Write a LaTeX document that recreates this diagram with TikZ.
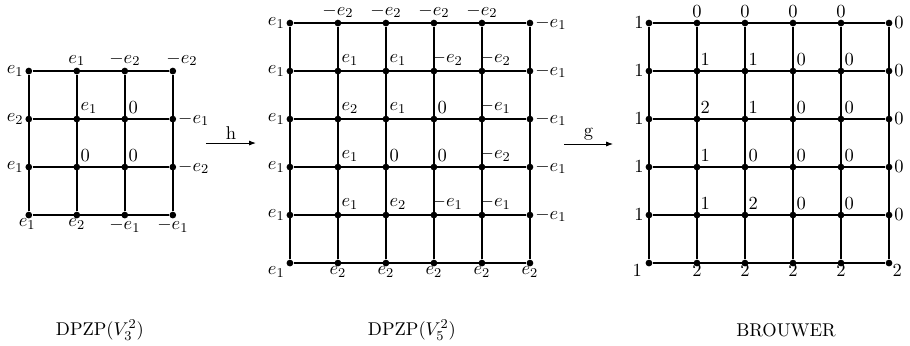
\documentclass[tikz,border=0pt,11pt]{standalone}
\usepackage{amsmath}
\usepackage{tikz}
\usetikzlibrary{arrows.meta}

\begin{document}
\begin{tikzpicture}[>={Latex[length=4pt,width=3pt]}, every node/.style={font=\normalsize}]
    \tikzstyle{dot}=[circle, fill, inner sep=0pt, minimum size=4pt]
    \tikzstyle{grid}=[line width=0.95pt]
    \tikzstyle{toplab}=[anchor=south, inner sep=0pt, yshift=2.8pt]
    \tikzstyle{botlab}=[anchor=north, inner sep=0pt, yshift=-2pt]
    \tikzstyle{leftlab}=[anchor=east, inner sep=0pt, xshift=-3pt]
    \tikzstyle{rightlab}=[anchor=west, inner sep=0pt, xshift=3pt]
    \tikzstyle{inlab}=[anchor=south west, inner sep=0pt, xshift=2pt, yshift=3pt]
    \tikzstyle{inneg}=[anchor=south west, inner sep=0pt, xshift=-1.5pt, yshift=3pt]

    \useasboundingbox (0,0) rectangle (18.958,-7.208);

    % left grid DPZP(V_3^2)
    \foreach \c in {0,...,3}
        \foreach \r in {0,...,3}
            \node[dot] (l-\c-\r) at (0.6+\c,-1.48-\r) {};
    \foreach \i in {0,...,3} {
        \draw[grid] (l-0-\i) -- (l-3-\i);
        \draw[grid] (l-\i-0) -- (l-\i-3);
    }
    \foreach \r/\t in {0/e_1,1/e_2,2/e_1}
        \node[leftlab] (ll-\r) at (l-0-\r) {$\t$};
    \node[botlab, xshift=-1pt] (lb-0) at (l-0-3) {$e_1$};
    \foreach \c/\t in {1/e_2,2/-e_1,3/-e_1}
        \node[botlab] (lb-\c) at (l-\c-3) {$\t$};
    \foreach \c/\t in {1/e_1,2/-e_2}
        \node[toplab] (lt-\c) at (l-\c-0) {$\t$};
    \node[toplab, anchor=south west, xshift=-4pt] (lt-3) at (l-3-0) {$-e_2$};
    \foreach \r/\t in {1/-e_1,2/-e_2}
        \node[rightlab] (lr-\r) at (l-3-\r) {$\t$};
    \foreach \c/\r/\t in {1/1/e_1,2/1/0,1/2/0,2/2/0}
        \node[inlab] (li-\c-\r) at (l-\c-\r) {$\t$};

    % arrow h
    \coordinate (hA) at (4.29,-2.98);
    \coordinate (hB) at (5.33,-2.98);
    \draw[->, line width=0.5pt] (hA) -- node[above, inner sep=2pt] (hlab) {h} (hB);

    % middle grid DPZP(V_5^2)
    \foreach \c in {0,...,5}
        \foreach \r in {0,...,5}
            \node[dot] (m-\c-\r) at (6.04+\c,-0.48-\r) {};
    \foreach \i in {0,...,5} {
        \draw[grid] (m-0-\i) -- (m-5-\i);
        \draw[grid] (m-\i-0) -- (m-\i-5);
    }
    \foreach \r in {0,...,4} {
        \node[leftlab] (ml-\r) at (m-0-\r) {$e_1$};
        \node[rightlab] (mr-\r) at (m-5-\r) {$-e_1$};
    }
    \node[botlab, anchor=north east, xshift=-3pt] (mb-0) at (m-0-5) {$e_1$};
    \foreach \c in {1,...,5}
        \node[botlab] (mb-\c) at (m-\c-5) {$e_2$};
    \foreach \c in {1,...,4}
        \node[toplab] (mt-\c) at (m-\c-0) {$-e_2$};
    \foreach \c/\r/\t in {1/1/e_1,2/1/e_1,1/2/e_2,2/2/e_1,3/2/0,1/3/e_1,2/3/0,3/3/0,1/4/e_1,2/4/e_2}
        \node[inlab] (mi-\c-\r) at (m-\c-\r) {$\t$};
    \foreach \c/\r/\t in {3/1/-e_2,4/1/-e_2,4/2/-e_1,4/3/-e_2,3/4/-e_1,4/4/-e_1}
        \node[inneg] (mi-\c-\r) at (m-\c-\r) {$\t$};

    % arrow g
    \coordinate (gA) at (11.75,-3.0);
    \coordinate (gB) at (12.77,-3.0);
    \draw[->, line width=0.5pt] (gA) -- node[above, inner sep=2pt] (glab) {g} (gB);

    % right grid BROUWER
    \foreach \c in {0,...,5}
        \foreach \r in {0,...,5}
            \node[dot] (b-\c-\r) at (13.52+\c,-0.48-\r) {};
    \foreach \i in {0,...,5} {
        \draw[grid] (b-0-\i) -- (b-5-\i);
        \draw[grid] (b-\i-0) -- (b-\i-5);
    }
    \foreach \r in {0,...,4} {
        \node[leftlab] (bl-\r) at (b-0-\r) {$1$};
        \node[rightlab] (br-\r) at (b-5-\r) {$0$};
    }
    \node[botlab, anchor=north east, xshift=-4pt, yshift=1pt] (bb-0) at (b-0-5) {$1$};
    \foreach \c in {1,...,4}
        \node[botlab, yshift=1pt] (bb-\c) at (b-\c-5) {$2$};
    \node[botlab, anchor=north west, xshift=2pt, yshift=1pt] (bb-5) at (b-5-5) {$2$};
    \foreach \c in {1,...,4}
        \node[toplab] (bt-\c) at (b-\c-0) {$0$};
    \foreach \c/\r/\t in {1/1/1,2/1/1,3/1/0,4/1/0,1/2/2,2/2/1,3/2/0,4/2/0,1/3/1,2/3/0,3/3/0,4/3/0,1/4/1,2/4/2,3/4/0,4/4/0}
        \node[inlab] (bi-\c-\r) at (b-\c-\r) {$\t$};

    % captions
    \node (capL) at (2.08,-6.875) {DPZP($V_3^2$)};
    \node (capM) at (8.58,-6.875) {DPZP($V_5^2$)};
    \node (capR) at (16.375,-6.875) {BROUWER};
\end{tikzpicture}
\end{document}
